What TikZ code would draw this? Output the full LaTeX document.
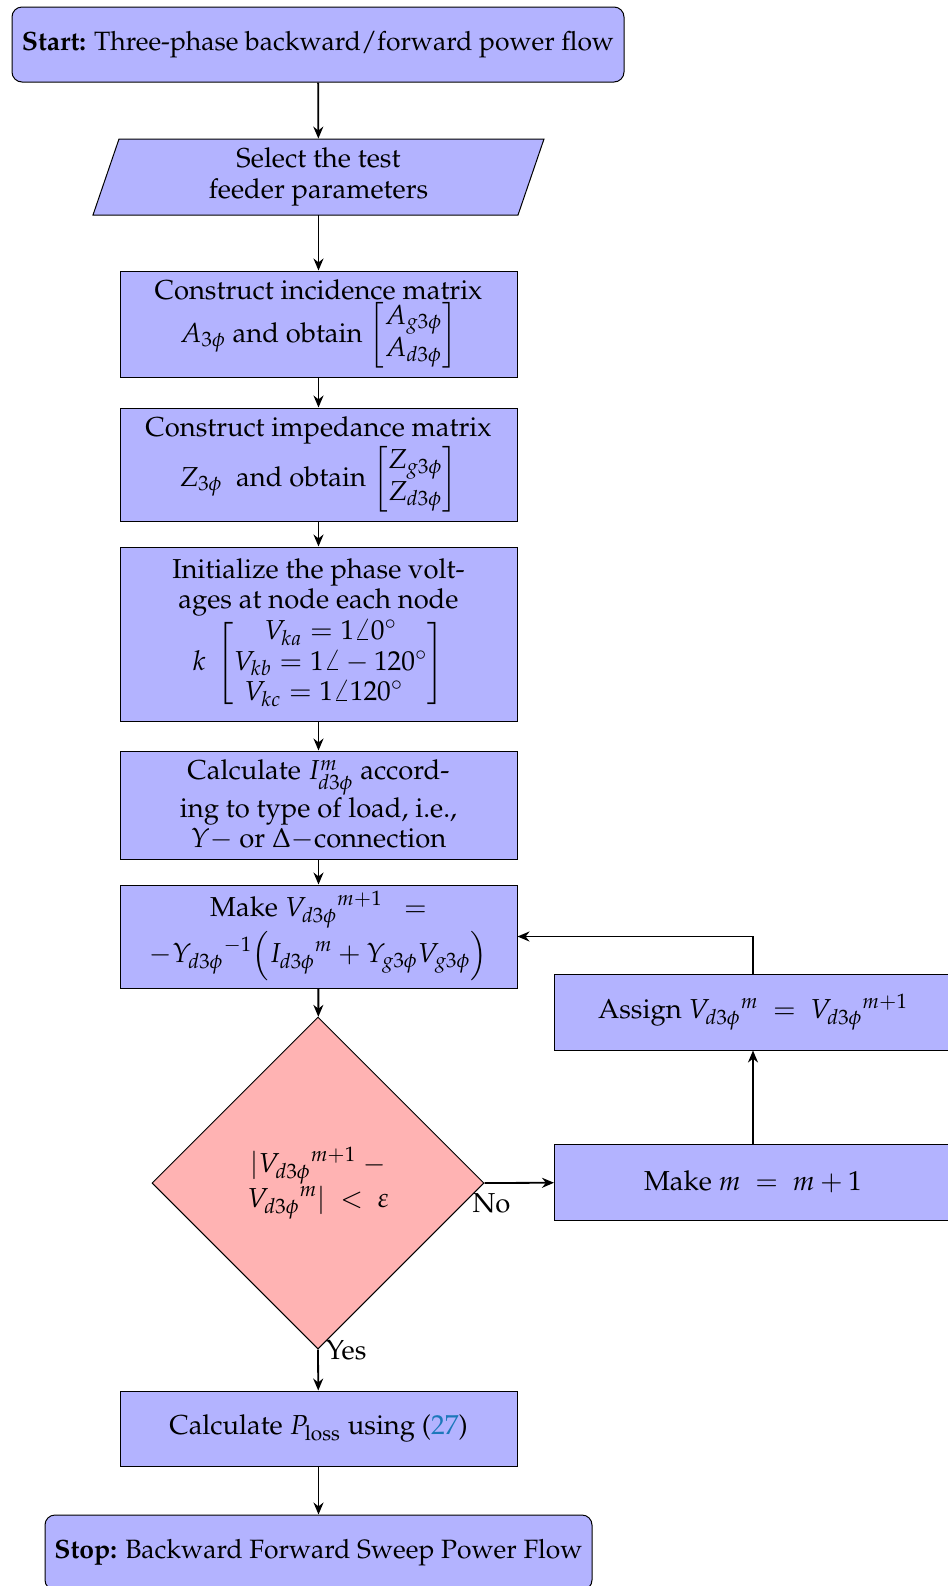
\documentclass[tikz,border=0pt]{standalone}
\usepackage[T1]{fontenc}
\usepackage{amsmath}
\usepackage{mathpazo}
\usetikzlibrary{shapes.geometric,arrows.meta,backgrounds}
\definecolor{boxblue}{RGB}{179,179,255}
\definecolor{diared}{RGB}{255,179,179}
\definecolor{linkcol}{RGB}{28,120,186}
\tikzset{
  fnt/.style={font=\fontsize{13.7}{15.2}\selectfont},
  procbox/.style={fnt, draw=black, line width=0.5pt, fill=boxblue, rectangle, align=center, minimum width=198.5pt, inner sep=2pt},
  termbox/.style={procbox, rounded corners=5pt, font=\fontsize{13.25}{15.2}\selectfont},
  iobox/.style={fnt, rectangle, align=center, minimum width=200pt, minimum height=38pt, inner sep=2pt},
  decbox/.style={fnt, draw=black, line width=0.5pt, fill=diared, diamond, align=center, minimum width=166pt, minimum height=166pt, inner sep=1pt},
  arr/.style={draw=black, line width=0.9pt, -{Stealth[length=6pt,width=5pt]}},
  lbl/.style={fnt}
}
\begin{document}
\begin{tikzpicture}[x=0.5pt,y=-0.5pt]
\useasboundingbox (0,0) rectangle (948,1586);
\clip (0,0) rectangle (948,1586);
\node[termbox, minimum width=306pt, minimum height=37.5pt] (start) at (318,44.5) {\textbf{Start:} Three-phase backward/forward power flow};
\node[iobox] (para) at (318.5,177) {Select the test\\feeder parameters};
\begin{scope}[on background layer]
\filldraw[fill=boxblue, draw=black, line width=0.5pt] (119,139) -- (544,139) -- (518,215) -- (93,215) -- cycle;
\end{scope}
\node[procbox, minimum height=53pt] (b1) at (318.5,324) {Construct incidence matrix\\ $A_{3\phi}$ and obtain $\begin{bmatrix}A_{g3\phi}\\A_{d3\phi}\end{bmatrix}$};
\node[procbox, minimum height=56.5pt] (b2) at (318.5,464.5) {Construct impedance matrix\\ $Z_{3\phi}$\ \ and obtain $\begin{bmatrix}Z_{g3\phi}\\Z_{d3\phi}\end{bmatrix}$};
\node[procbox, minimum height=87pt] (b3) at (318.5,634) {Initialize the phase volt-\\ages at node each node\\ $k\ \begin{bmatrix} V_{ka}=1\angle 0^\circ\\ V_{kb}=1\angle -120^\circ\\ V_{kc}=1\angle 120^\circ\ \ \end{bmatrix}$};
\node[procbox, minimum height=54pt] (b4) at (318.5,805) {Calculate $I^m_{d3\phi}$ accord-\\ing to type of load, i.e.,\\ $Y-$ or $\Delta-$connection};
\node[procbox, minimum height=51.5pt] (b5) at (318.5,936.5) {Make ${V_{d3\phi}}^{m+1}\ \ =$\\ $-{Y_{d3\phi}}^{-1}\Bigl({I_{d3\phi}}^m+Y_{g3\phi}V_{g3\phi}\Bigr)$};
\node[decbox] (dia) at (318,1183) {$|{V_{d3\phi}}^{m+1}\ -$\\ ${V_{d3\phi}}^m|\ <\ \varepsilon$};
\node[procbox, minimum height=38pt] (assign) at (753,1012) {Assign ${V_{d3\phi}}^m\ =\ {V_{d3\phi}}^{m+1}$};
\node[procbox, minimum height=38pt] (makem) at (753,1182) {Make $m\ =\ m+1$};
\node[procbox, minimum height=37.5pt] (ploss) at (318.5,1428.5) {Calculate $P_{\mathrm{loss}}$ using (\textcolor{linkcol}{27})};
\node[termbox, minimum width=273.5pt, minimum height=37.5pt] (stop) at (318.5,1552.5) {\textbf{Stop:} Backward Forward Sweep Power Flow};
\draw[arr] (start) -- (para);
\draw[arr] (para) -- (b1);
\draw[arr] (b1) -- (b2);
\draw[arr] (b2) -- (b3);
\draw[arr] (b3) -- (b4);
\draw[arr] (b4) -- (b5);
\draw[arr] (b5) -- (dia);
\draw[arr] (dia.south) -- node[lbl, right, pos=0.02, inner sep=3.5pt] {Yes} (ploss);
\draw[arr] (dia.east) -- node[lbl, below, pos=0.1, inner sep=5pt] {No} (makem);
\draw[arr] (makem) -- (assign);
\draw[arr] (assign.north) |- (b5.east);
\draw[arr] (ploss) -- (stop);
\end{tikzpicture}
\end{document}
